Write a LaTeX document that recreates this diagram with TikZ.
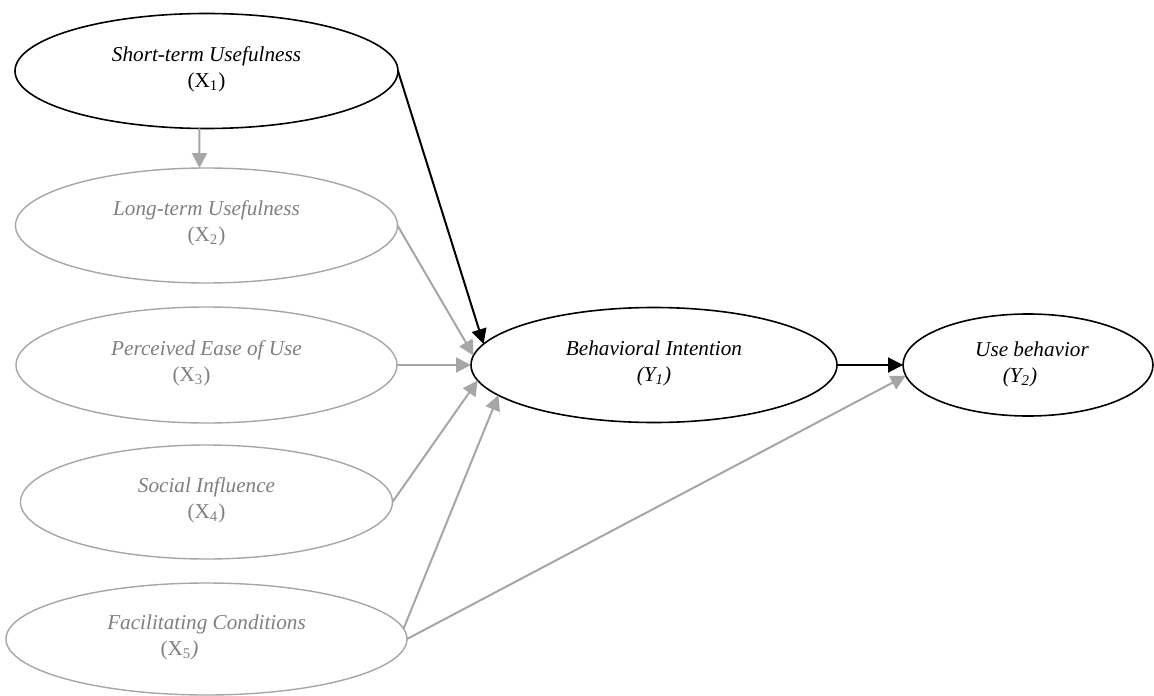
\documentclass[tikz,border=0pt]{standalone}
\usepackage{fontspec}
\setmainfont{Liberation Serif}
\usetikzlibrary{shapes.geometric,positioning,arrows.meta}

\definecolor{lineGray}{HTML}{A6A6A6}
\definecolor{textGray}{HTML}{7F7F7F}

\tikzset{
  construct/.style={ellipse, draw=black, line width=0.8pt, inner sep=0pt, outer sep=0pt},
  faded/.style={construct, draw=lineGray, line width=0.7pt},
  caption/.style={align=center, font=\fontsize{10.6}{13}\selectfont\itshape, inner sep=0pt, yshift=1pt},
  fadedcap/.style={caption, text=textGray},
  path/.style={-{Triangle[length=7.5pt,width=7.5pt]}, line width=1pt, draw=black},
  fadedpath/.style={path, draw=lineGray}
}

\begin{document}
\begin{tikzpicture}[node distance=2cm,on grid]
\useasboundingbox (-103.25pt,35.5pt) rectangle (473.75pt,-312pt);

\node[construct, minimum width=383pt/2, minimum height=115pt/2] (x1) {};
\node[faded, minimum width=382pt/2, minimum height=115pt/2] (x2) [below=77.25pt of x1] {};
\node[faded, minimum width=381pt/2, minimum height=116pt/2] (x3) [below=69.75pt of x2] {};
\node[faded, minimum width=372pt/2, minimum height=114pt/2] (x4) [below=68.5pt of x3] {};
\node[faded, minimum width=401pt/2, minimum height=112pt/2] (x5) [below=68.5pt of x4] {};
\node[construct, minimum width=366pt/2, minimum height=115pt/2] (bi) [right=223.75pt of x3] {};
\node[construct, minimum width=250pt/2, minimum height=102pt/2] (ub) [right=187pt of bi] {};

% captions
\node[caption] (x1t) at (x1) {Short-term Usefulness\\\upshape(X\textsubscript{1})};
\node[fadedcap] (x2t) at (x2) {Long-term Usefulness\\\upshape(X\textsubscript{2})};
\node[fadedcap] (x3t) at (x3) {Perceived Ease of Use\\\hspace*{-15pt}\upshape(X\textsubscript{3})};
\node[fadedcap] (x4t) at (x4) {Social Influence\\\upshape(X\textsubscript{4})};
\node[fadedcap] (x5t) at (x5) {Facilitating Conditions\\\hspace*{-27pt}\upshape(X\textsubscript{5}\textit{)}};
\node[caption] (bit) at (bi) {Behavioral Intention\\(Y\textsubscript{1})};
\node[caption, xshift=2pt, yshift=-0.5pt] (ubt) at (ub) {Use behavior\\\hspace*{-12pt}(Y\textsubscript{2})};

\draw[fadedpath] (x1.263) -- (x2.97);
\draw[path] (x1.east) -- (bi.173);
\draw[fadedpath] (x2.east) -- (bi.177);
\draw[fadedpath] (x3.east) -- (bi.180);
\draw[fadedpath] (x4.east) -- (bi.185);
\draw[fadedpath] (x5.3) -- (bi.191);
\draw[fadedpath] (x5.east) -- (ub.185);
\draw[path] (bi.east) -- (ub.west);
\end{tikzpicture}
\end{document}
